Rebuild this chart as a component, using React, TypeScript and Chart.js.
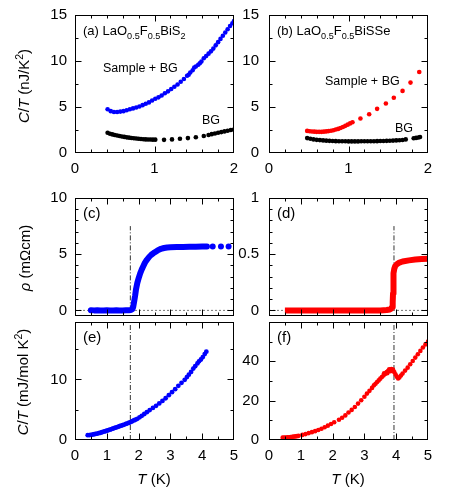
import React, { useEffect, useRef } from "react";
import { Chart, registerables } from "chart.js";

Chart.register(...registerables);

const FONT = '"Liberation Sans", Arial, Helvetica, sans-serif';

// ---------- data ----------
// (a) LaO0.5F0.5BiS2, C/T (nJ/K^2)
const aSampT = [0.41,0.45,0.49,0.53,0.57,0.61,0.65,0.69,0.73,0.77,0.81,0.85,0.89,0.93,0.97,1.01,1.05,1.09,1.13,1.17,1.21,1.25,1.29,1.33,1.37,1.41,1.43,1.45,1.48,1.50,1.52,1.55,1.57,1.59,1.62,1.65,1.68,1.71,1.74,1.77,1.80,1.83,1.86,1.89,1.92,1.95,1.98,2.00];
const aSampC = [4.75,4.55,4.45,4.45,4.5,4.55,4.65,4.75,4.85,4.95,5.05,5.2,5.35,5.5,5.7,5.9,6.05,6.25,6.5,6.7,6.95,7.2,7.45,7.75,8.05,8.4,8.5,8.75,9.0,9.3,9.4,9.6,9.75,9.95,10.3,10.55,10.8,11.05,11.35,11.7,12.05,12.4,12.75,13.1,13.45,13.8,14.1,14.35];
const aBgT = [0.41,0.44,0.47,0.50,0.53,0.56,0.59,0.62,0.65,0.68,0.71,0.74,0.77,0.80,0.83,0.86,0.89,0.92,0.95,0.98,1.01,1.12,1.22,1.32,1.42,1.52,1.62,1.68,1.72,1.76,1.80,1.84,1.88,1.92,1.96,2.00];
const aBgC = [2.2,2.1,2.02,1.95,1.9,1.85,1.8,1.75,1.7,1.67,1.63,1.6,1.57,1.55,1.52,1.5,1.48,1.47,1.46,1.45,1.45,1.43,1.48,1.55,1.62,1.72,1.85,1.95,2.05,2.12,2.2,2.27,2.35,2.42,2.5,2.55];

// (b) LaO0.5F0.5BiSSe
const bSampT = [0.48,0.51,0.54,0.57,0.60,0.63,0.66,0.69,0.72,0.75,0.78,0.81,0.84,0.87,0.90,0.93,0.96,0.99,1.02,1.05,1.15,1.26,1.36,1.47,1.57,1.68,1.78,1.89];
const bSampC = [2.4,2.37,2.34,2.32,2.3,2.3,2.3,2.32,2.35,2.38,2.42,2.48,2.55,2.62,2.72,2.82,2.95,3.08,3.22,3.35,3.75,4.22,4.8,5.38,6.0,6.75,7.65,8.8];
const bBgT = [0.48,0.52,0.56,0.60,0.64,0.68,0.72,0.76,0.80,0.84,0.88,0.92,0.96,1.00,1.04,1.08,1.12,1.16,1.20,1.24,1.28,1.32,1.36,1.40,1.44,1.48,1.52,1.56,1.60,1.64,1.68,1.72,1.82,1.85,1.88,1.90];
const bBgC = [1.62,1.55,1.48,1.43,1.4,1.37,1.34,1.32,1.3,1.29,1.28,1.27,1.27,1.26,1.26,1.26,1.26,1.27,1.27,1.27,1.28,1.28,1.29,1.3,1.31,1.32,1.33,1.35,1.37,1.39,1.42,1.48,1.6,1.64,1.69,1.74];

// (c) rho (mOhm cm), BiS2
const cT = [0.5,0.6,0.7,0.8,0.9,1.0,1.1,1.2,1.3,1.4,1.5,1.6,1.7,1.76,1.8,1.83,1.86,1.89,1.92,1.96,2.0,2.05,2.1,2.15,2.2,2.26,2.33,2.4,2.47,2.55,2.62,2.7,2.8,2.9,3.0,3.2,3.4,3.6,3.8,4.0,4.15];
const cR = [0.02,0.0,0.01,0.0,0.0,0.01,0.0,0.0,0.01,0.0,0.0,0.01,0.02,0.03,0.1,0.3,0.8,1.3,1.9,2.45,2.85,3.3,3.65,3.95,4.25,4.5,4.75,4.95,5.1,5.25,5.38,5.47,5.55,5.6,5.62,5.64,5.65,5.66,5.67,5.68,5.68];
const cSparseT = [4.33, 4.59, 4.83];
const cSparseR = [5.68, 5.68, 5.68];
const cTc = [1.74, 1.74];
const cTcR = [0, 7.5];

// (d) rho (mOhm cm), BiSSe
const dT = [0.5,0.8,1.1,1.4,1.7,2.0,2.3,2.6,2.9,3.2,3.5,3.7,3.8,3.84,3.87,3.89,3.9,3.91,3.92,3.94,3.97,4.02,4.1,4.2,4.4,4.6,4.8,5.0];
const dR = [0,0,0,0,0,0,0,0,0,0,0,0.003,0.008,0.015,0.03,0.07,0.15,0.25,0.33,0.37,0.395,0.41,0.425,0.435,0.445,0.452,0.457,0.46];
const dTc = [3.93, 3.93];
const dTcR = [0, 0.75];

const zeroT = [0, 5];
const zeroV = [0, 0];

// (e) C/T (mJ/mol K^2), BiS2
const eT = [0.4,0.45,0.5,0.55,0.6,0.65,0.7,0.75,0.8,0.85,0.9,0.95,1.0,1.05,1.1,1.15,1.2,1.25,1.3,1.35,1.4,1.45,1.5,1.55,1.6,1.65,1.7,1.75,1.8,1.85,1.9,1.96,2.03,2.1,2.18,2.26,2.35,2.45,2.55,2.65,2.75,2.85,2.95,3.05,3.15,3.25,3.35,3.45,3.52,3.58,3.65,3.72,3.78,3.85,3.9,3.96,4.02,4.08,4.13];
const eC = [0.8,0.82,0.85,0.9,0.95,1.0,1.07,1.13,1.2,1.28,1.37,1.45,1.53,1.62,1.7,1.8,1.9,2.0,2.08,2.18,2.27,2.36,2.45,2.55,2.65,2.75,2.85,2.97,3.1,3.23,3.35,3.5,3.75,4.0,4.3,4.6,4.95,5.3,5.65,6.05,6.45,6.9,7.4,7.9,8.4,8.95,9.45,9.95,10.4,10.8,11.25,11.8,12.2,12.65,13.0,13.3,13.7,14.2,14.6];
const eTc = [1.74, 1.74];
const eTcC = [0, 19.5];

// (f) C/T (mJ/mol K^2), BiSSe
const fT = [0.43,0.48,0.53,0.58,0.63,0.68,0.73,0.78,0.83,0.88,0.93,1.05,1.15,1.25,1.35,1.45,1.55,1.65,1.75,1.85,1.95,2.05,2.2,2.3,2.4,2.5,2.6,2.7,2.8,2.9,3.0,3.08,3.16,3.24,3.3,3.35,3.4,3.45,3.5,3.55,3.6,3.62,3.65,3.7,3.72,3.75,3.78,3.8,3.82,3.85,3.9,3.94,3.98,4.02,4.06,4.1,4.15,4.2,4.28,4.36,4.44,4.52,4.6,4.68,4.76,4.84,4.92,5.0];
const fC = [1.2,1.25,1.3,1.35,1.42,1.5,1.6,1.7,1.82,1.95,2.1,2.6,3.0,3.5,4.0,4.5,5.1,5.75,6.5,7.3,8.1,9.0,10.3,11.3,12.5,14.0,15.3,16.8,18.5,20.2,22.0,23.6,25.0,26.5,27.8,28.6,29.5,30.3,31.2,32.0,32.8,33.9,33.6,34.5,34.0,35.2,36.0,35.7,35.0,36.1,35.8,34.5,33.3,32.2,31.3,31.8,32.8,33.8,35.3,36.8,38.5,40.2,41.9,43.6,45.3,47.0,48.6,50.0];
const fTc = [3.93, 3.93];
const fTcC = [0, 60];

// tick labels (major ticks)
const xMajorTop = [0, 1, 2];
const xMajorBot = [0, 1, 2, 3, 4, 5];
const yMajorAB = [0, 5, 10, 15];
const yMajorC = [0, 5, 10];
const yMajorD = [0, 0.5, 1];
const yMajorE = [0, 10];
const yMajorF = [0, 20, 40];

// ---------- helpers ----------
type Seg = { t: string; it?: boolean; sub?: boolean; sup?: boolean };
type Txt = { x: number; y: number; size: number; segs: Seg[]; rot?: boolean; align?: "left" | "center" };
type Axis = { min: number; max: number; major: number[]; step: number; labels: boolean };
type Panel = {
  key: string;
  box: { left: number; top: number; width: number; height: number };
  plot: { L: number; T: number; R: number; B: number };
  x: Axis;
  y: Axis;
  xPad: number;
  yPad: number;
  datasets: any[];
  texts: Txt[];
};

const zip = (xs: number[], ys: number[]) => xs.map((x, i) => ({ x, y: ys[i] }));

const BLUE = "#0000ff";
const RED = "#ff0000";
const BLACK = "#000000";

const dots = (data: any[], color: string, r: number) => ({
  data, showLine: false, pointRadius: r, pointHoverRadius: r, pointBackgroundColor: color,
  pointBorderWidth: 0, borderWidth: 0, borderColor: color, order: 1,
});
const thick = (data: any[], color: string, cap: string) => ({
  data, showLine: true, borderColor: color, borderWidth: 6, pointRadius: 0, pointHoverRadius: 0,
  borderCapStyle: cap, borderJoinStyle: "round", tension: 0, order: 1,
});
const refLine = (data: any[], dash: number[], color: string) => ({
  data, showLine: true, borderColor: color, borderWidth: 1, borderDash: dash, pointRadius: 0,
  pointHoverRadius: 0, tension: 0, order: 5,
});

const tickVals = (a: Axis) => {
  const out: number[] = [];
  const start = Math.ceil(a.min / a.step - 1e-9) * a.step;
  for (let v = start; v <= a.max + 1e-9; v += a.step) out.push(Math.round(v * 1e6) / 1e6);
  return out;
};
const isMajor = (a: Axis, v: number) => a.major.some((m) => Math.abs(m - v) < 1e-6);
const fmt = (v: number) => String(Number(v.toFixed(4)));

function drawRich(ctx: CanvasRenderingContext2D, t: Txt, ox: number, oy: number) {
  ctx.save();
  ctx.fillStyle = "#000";
  ctx.textBaseline = "alphabetic";
  ctx.textAlign = "left";
  const small = t.size * 0.7;
  const fontOf = (s: Seg) => `${s.it ? "italic " : ""}${s.sub || s.sup ? small : t.size}px ${FONT}`;
  let w = 0;
  for (const s of t.segs) {
    ctx.font = fontOf(s);
    w += ctx.measureText(s.t).width;
  }
  ctx.translate(t.x - ox, t.y - oy);
  if (t.rot) ctx.rotate(-Math.PI / 2);
  let cx = t.align === "center" ? -w / 2 : 0;
  const base = t.size * 0.36;
  for (const s of t.segs) {
    ctx.font = fontOf(s);
    const dy = s.sub ? t.size * 0.3 : s.sup ? -t.size * 0.42 : 0;
    ctx.fillText(s.t, cx, base + dy);
    cx += ctx.measureText(s.t).width;
  }
  ctx.restore();
}

const framePlugin = (p: Panel) => ({
  id: "frame_" + p.key,
  afterDraw(chart: any) {
    const ctx: CanvasRenderingContext2D = chart.ctx;
    const a = chart.chartArea;
    const xs = chart.scales.x;
    const ys = chart.scales.y;
    ctx.save();
    ctx.strokeStyle = "#000";
    ctx.lineWidth = 1;
    ctx.setLineDash([]);
    const L = Math.round(a.left) + 0.5;
    const R = Math.round(a.right) - 0.5;
    const T = Math.round(a.top) + 0.5;
    const B = Math.round(a.bottom) - 0.5;
    ctx.strokeRect(L, T, R - L, B - T);
    ctx.beginPath();
    for (const v of tickVals(p.x)) {
      const px = Math.round(xs.getPixelForValue(v)) + 0.5;
      if (px <= L + 1 || px >= R - 1) continue;
      const len = isMajor(p.x, v) ? 6 : 3;
      ctx.moveTo(px, B); ctx.lineTo(px, B - len);
      ctx.moveTo(px, T); ctx.lineTo(px, T + len);
    }
    for (const v of tickVals(p.y)) {
      const py = Math.round(ys.getPixelForValue(v)) + 0.5;
      if (py <= T + 1 || py >= B - 1) continue;
      const len = isMajor(p.y, v) ? 6 : 3;
      ctx.moveTo(L, py); ctx.lineTo(L + len, py);
      ctx.moveTo(R, py); ctx.lineTo(R - len, py);
    }
    ctx.stroke();
    ctx.restore();
    for (const t of p.texts) drawRich(ctx, t, p.box.left, p.box.top);
  },
});

function makeChart(canvas: HTMLCanvasElement, p: Panel) {
  const xt = tickVals(p.x);
  const yt = tickVals(p.y);
  const tickFont = { family: FONT, size: 15 };
  return new Chart(canvas, {
    type: "scatter",
    data: { datasets: p.datasets },
    options: {
      animation: false,
      responsive: false,
      maintainAspectRatio: false,
      events: [],
      layout: {
        autoPadding: false,
        padding: { left: 0, bottom: 0, top: p.plot.T - p.box.top, right: p.box.left + p.box.width - p.plot.R },
      },
      plugins: { legend: { display: false }, tooltip: { enabled: false }, title: { display: false } },
      scales: {
        x: {
          type: "linear", position: "bottom", min: p.x.min, max: p.x.max,
          grid: { display: false, drawTicks: false }, border: { display: false },
          ticks: {
            autoSkip: false, maxRotation: 0, minRotation: 0, padding: p.xPad, color: "#000", font: tickFont,
            callback: (v: any) => (p.x.labels && isMajor(p.x, Number(v)) ? fmt(Number(v)) : ""),
          },
          afterBuildTicks: (s: any) => { s.ticks = xt.map((v) => ({ value: v })); },
          afterFit: (s: any) => {
            s.height = p.box.top + p.box.height - p.plot.B;
            s.paddingLeft = 0; s.paddingRight = 0;
          },
        },
        y: {
          type: "linear", position: "left", min: p.y.min, max: p.y.max,
          grid: { display: false, drawTicks: false }, border: { display: false },
          ticks: {
            autoSkip: false, padding: p.yPad, color: "#000", font: tickFont,
            callback: (v: any) => (p.y.labels && isMajor(p.y, Number(v)) ? fmt(Number(v)) : ""),
          },
          afterBuildTicks: (s: any) => { s.ticks = yt.map((v) => ({ value: v })); },
          afterFit: (s: any) => {
            s.width = p.plot.L - p.box.left;
            s.paddingTop = 0; s.paddingBottom = 0;
          },
        },
      },
    } as any,
    plugins: [framePlugin(p)],
  });
}

// ---------- layout ----------
const LEFT_BOX = { left: 0, width: 246 };
const RIGHT_BOX = { left: 236, width: 214 };

const sub = (t: string): Seg => ({ t, sub: true });

const PANELS: Panel[] = [
  {
    key: "a",
    box: { ...LEFT_BOX, top: 0, height: 180 },
    plot: { L: 75, T: 15, R: 234, B: 153 },
    x: { min: 0, max: 2, major: xMajorTop, step: 0.2, labels: true },
    y: { min: 0, max: 15, major: yMajorAB, step: 2.5, labels: true },
    xPad: 7, yPad: 8,
    datasets: [dots(zip(aSampT, aSampC), BLUE, 2.3), dots(zip(aBgT, aBgC), BLACK, 2.3)],
    texts: [
      { x: 83, y: 30, size: 13, segs: [{ t: "(a) LaO" }, sub("0.5"), { t: "F" }, sub("0.5"), { t: "BiS" }, sub("2")] },
      { x: 103, y: 67, size: 12.5, segs: [{ t: "Sample + BG" }] },
      { x: 202, y: 119, size: 12.5, segs: [{ t: "BG" }] },
      { x: 24, y: 86, size: 15, rot: true, align: "center",
        segs: [{ t: "C", it: true }, { t: "/" }, { t: "T", it: true }, { t: " (nJ/K" }, { t: "2", sup: true }, { t: ")" }] },
    ],
  },
  {
    key: "b",
    box: { ...RIGHT_BOX, top: 0, height: 180 },
    plot: { L: 269, T: 15, R: 428, B: 153 },
    x: { min: 0, max: 2, major: xMajorTop, step: 0.2, labels: true },
    y: { min: 0, max: 15, major: yMajorAB, step: 2.5, labels: true },
    xPad: 7, yPad: 10,
    datasets: [dots(zip(bSampT, bSampC), RED, 2.3), dots(zip(bBgT, bBgC), BLACK, 2.3)],
    texts: [
      { x: 277, y: 30, size: 13, segs: [{ t: "(b) LaO" }, sub("0.5"), { t: "F" }, sub("0.5"), { t: "BiSSe" }] },
      { x: 325, y: 80, size: 12.5, segs: [{ t: "Sample + BG" }] },
      { x: 395, y: 127, size: 12.5, segs: [{ t: "BG" }] },
    ],
  },
  {
    key: "c",
    box: { ...LEFT_BOX, top: 186, height: 132 },
    plot: { L: 75, T: 198, R: 234, B: 316 },
    x: { min: 0, max: 5, major: xMajorBot, step: 0.5, labels: false },
    y: { min: -0.5, max: 10, major: yMajorC, step: 1, labels: true },
    xPad: 7, yPad: 8,
    datasets: [
      thick(zip(cT, cR), BLUE, "round"),
      dots(zip(cSparseT, cSparseR), BLUE, 3),
      refLine(zip(zeroT, zeroV), [2, 2], "#777"),
      refLine(zip(cTc, cTcR), [5, 2, 1, 2], "#333"),
    ],
    texts: [
      { x: 83, y: 213, size: 15, segs: [{ t: "(c)" }] },
      { x: 25, y: 258, size: 15, rot: true, align: "center", segs: [{ t: "ρ", it: true }, { t: " (mΩcm)" }] },
    ],
  },
  {
    key: "d",
    box: { ...RIGHT_BOX, top: 186, height: 132 },
    plot: { L: 269, T: 198, R: 428, B: 316 },
    x: { min: 0, max: 5, major: xMajorBot, step: 0.5, labels: false },
    y: { min: -0.05, max: 1, major: yMajorD, step: 0.1, labels: true },
    xPad: 7, yPad: 10,
    datasets: [
      thick(zip(dT, dR), RED, "butt"),
      refLine(zip(zeroT, zeroV), [2, 2], "#777"),
      refLine(zip(dTc, dTcR), [5, 2, 1, 2], "#333"),
    ],
    texts: [{ x: 277, y: 213, size: 15, segs: [{ t: "(d)" }] }],
  },
  {
    key: "e",
    box: { ...LEFT_BOX, top: 310, height: 185 },
    plot: { L: 75, T: 322, R: 234, B: 440 },
    x: { min: 0, max: 5, major: xMajorBot, step: 0.5, labels: true },
    y: { min: 0, max: 19.5, major: yMajorE, step: 5, labels: true },
    xPad: 7, yPad: 8,
    datasets: [dots(zip(eT, eC), BLUE, 2.4), refLine(zip(eTc, eTcC), [5, 2, 1, 2], "#333")],
    texts: [
      { x: 83, y: 337, size: 15, segs: [{ t: "(e)" }] },
      { x: 23, y: 382, size: 15, rot: true, align: "center",
        segs: [{ t: "C", it: true }, { t: "/" }, { t: "T", it: true }, { t: " (mJ/mol K" }, { t: "2", sup: true }, { t: ")" }] },
      { x: 154, y: 479, size: 15, align: "center", segs: [{ t: "T", it: true }, { t: " (K)" }] },
    ],
  },
  {
    key: "f",
    box: { ...RIGHT_BOX, top: 310, height: 185 },
    plot: { L: 269, T: 322, R: 428, B: 440 },
    x: { min: 0, max: 5, major: xMajorBot, step: 0.5, labels: true },
    y: { min: 0, max: 60, major: yMajorF, step: 10, labels: true },
    xPad: 7, yPad: 10,
    datasets: [dots(zip(fT, fC), RED, 2.3), refLine(zip(fTc, fTcC), [5, 2, 1, 2], "#333")],
    texts: [
      { x: 277, y: 337, size: 15, segs: [{ t: "(f)" }] },
      { x: 348, y: 479, size: 15, align: "center", segs: [{ t: "T", it: true }, { t: " (K)" }] },
    ],
  },
];

export default function App() {
  const refs = useRef<(HTMLCanvasElement | null)[]>([]);
  useEffect(() => {
    const charts = PANELS.map((p, i) => makeChart(refs.current[i] as HTMLCanvasElement, p));
    return () => charts.forEach((c) => c.destroy());
  }, []);
  return (
    <div style={{ position: "absolute", left: 0, top: 0, width: 450, height: 495, background: "#fff" }}>
      {PANELS.map((p, i) => (
        <canvas
          key={p.key}
          ref={(el) => { refs.current[i] = el; }}
          width={p.box.width}
          height={p.box.height}
          style={{ position: "absolute", left: p.box.left, top: p.box.top, width: p.box.width, height: p.box.height }}
        />
      ))}
    </div>
  );
}
